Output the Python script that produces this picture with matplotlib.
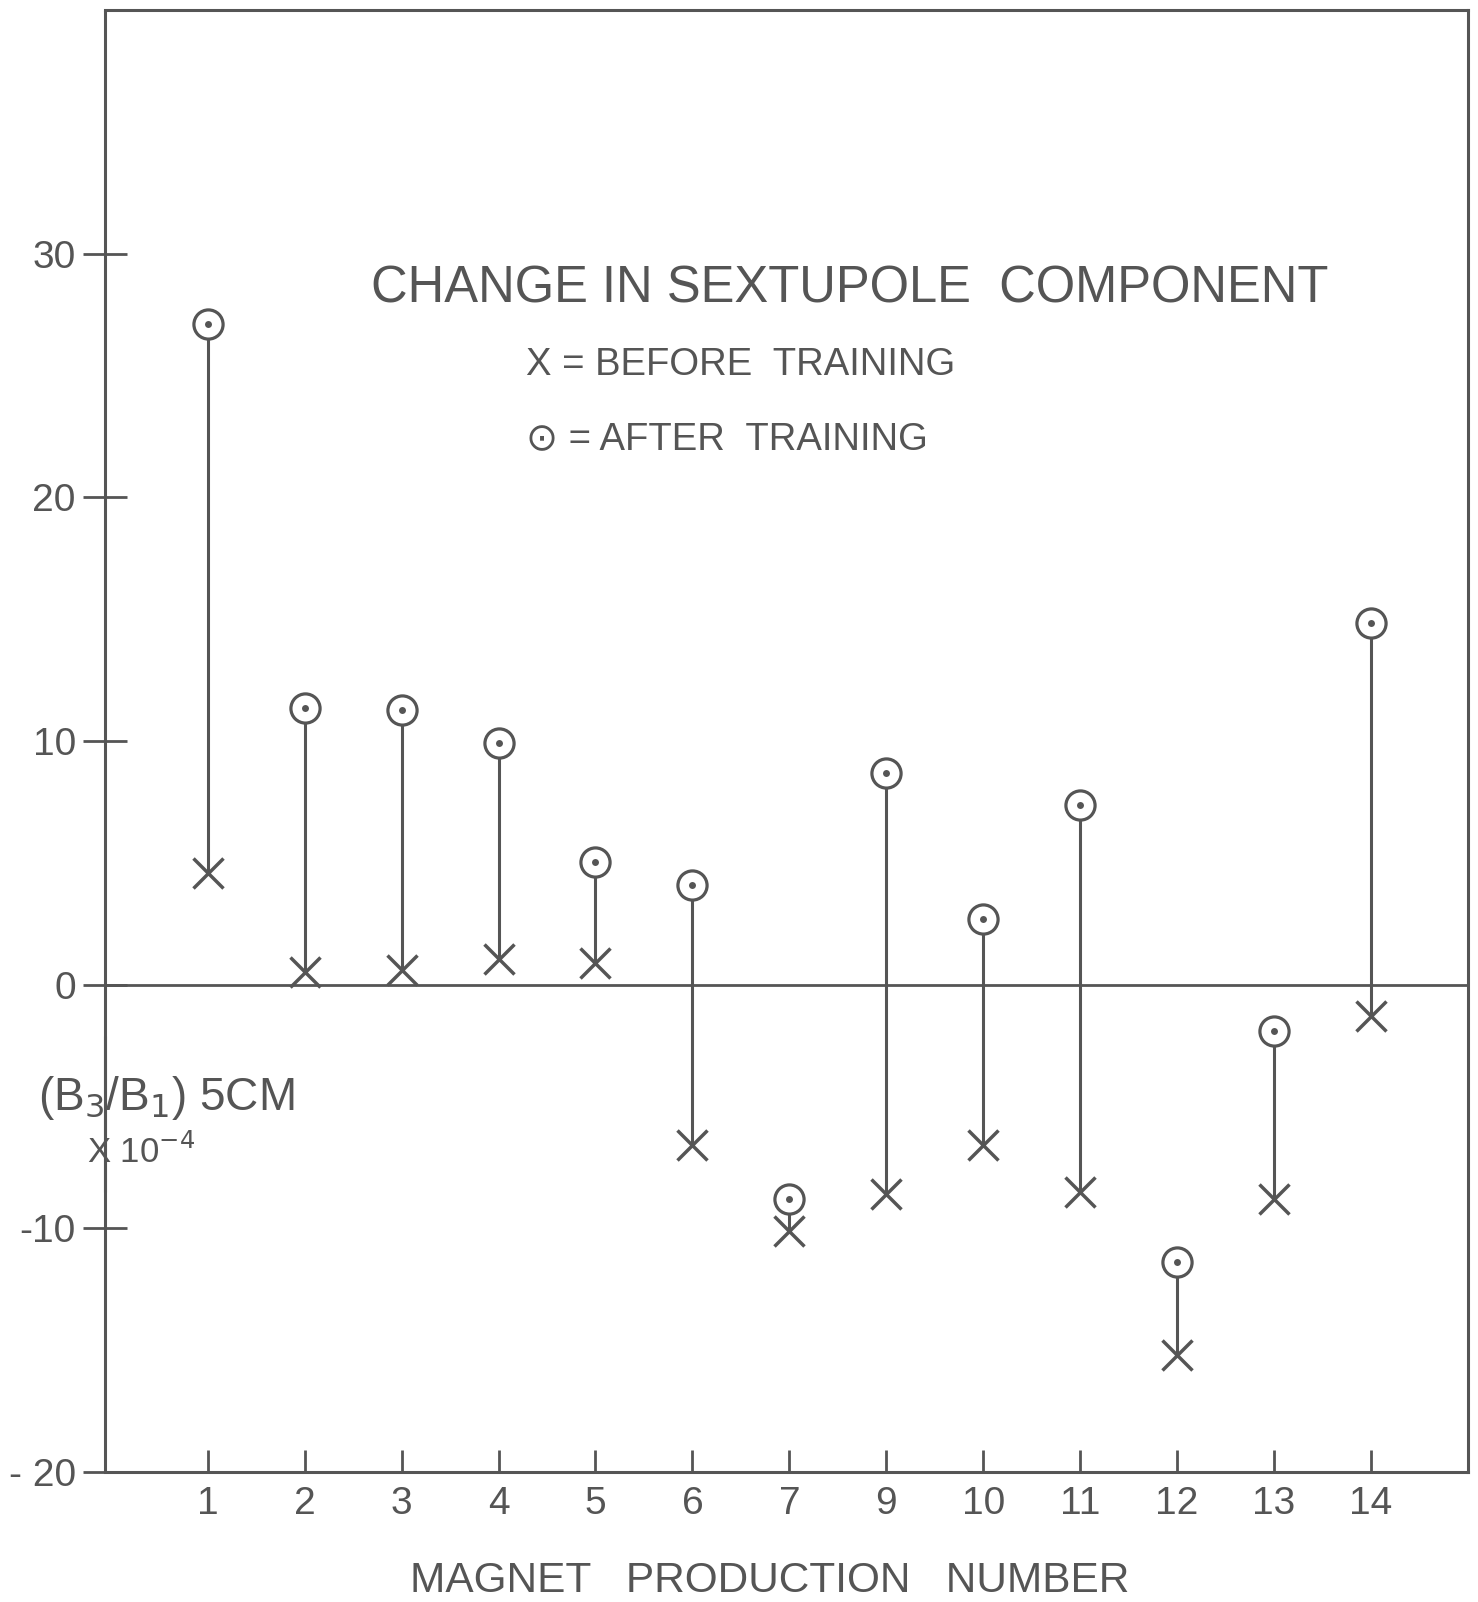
import numpy as np
import matplotlib
matplotlib.use("Agg")
import matplotlib.pyplot as plt

# magnet production numbers (8 is missing in the original)
magnets = ['1', '2', '3', '4', '5', '6', '7', '9', '10', '11', '12', '13', '14']
before = [4.6, 0.5, 0.6, 1.05, 0.9, -6.6, -10.1, -8.6, -6.6, -8.5, -15.2, -8.8, -1.3]
after = [27.1, 11.35, 11.25, 9.9, 5.05, 4.1, -8.8, 8.7, 2.7, 7.35, -11.4, -1.9, 14.85]
yticks = [-20, -10, 0, 10, 20, 30]
ytick_labels = ['- 20', '-10', '0', '10', '20', '30']

ink = '#555555'
plt.rcParams['font.family'] = ['Liberation Sans', 'DejaVu Sans']

fig = plt.figure(figsize=(14.78, 16.02), dpi=100)
ax = fig.add_axes([0.0710, 0.0812, 0.9222, 0.9126])

pos = np.arange(1, len(magnets) + 1)
ax.set_xlim(-0.06, 14.0)
ax.set_ylim(-20, 40)

# zero line
ax.axhline(0, color=ink, lw=2.0, zorder=1)

# connectors between before and after
ax.vlines(pos, before, after, color=ink, lw=2.2, zorder=2)

# before = X
ax.plot(pos, before, ls='none', marker='x', ms=21, mew=2.5, color=ink, zorder=3)
# after = circle with dot
ax.plot(pos, after, ls='none', marker='o', ms=21, mew=2.3, mec=ink, mfc='white', zorder=4)
ax.plot(pos, after, ls='none', marker='o', ms=5, mew=0, color=ink, zorder=5)

# frame: left spine broken for the axis label
for s in ['top', 'right', 'bottom']:
    ax.spines[s].set_color(ink)
    ax.spines[s].set_linewidth(2.2)
ax.spines['left'].set_visible(False)
x0 = ax.get_xlim()[0]
ax.vlines(x0, -20, -2.1, color=ink, lw=2.2, clip_on=False, zorder=6)
ax.vlines(x0, -8.5, 40, color=ink, lw=2.2, clip_on=False, zorder=6)

ax.set_xticks(pos)
ax.set_xticklabels(magnets)
ax.set_yticks(yticks)
ax.set_yticklabels(ytick_labels)
ax.tick_params(axis='x', direction='in', length=16, width=2.0, color=ink,
               labelsize=28, labelcolor=ink, pad=10)
ax.tick_params(axis='y', direction='inout', length=32, width=2.0, color=ink,
               labelsize=28, labelcolor=ink, pad=5)

fig.text(850 / 1478, 1 - 289 / 1602, 'CHANGE IN SEXTUPOLE  COMPONENT', ha='center', va='center',
         fontsize=36.5, color=ink)
fig.text(526 / 1478, 1 - 365 / 1602, 'X = BEFORE  TRAINING', ha='left', va='center',
         fontsize=27.5, color=ink)
fig.text(526 / 1478, 1 - 439 / 1602, '\u2299 = AFTER  TRAINING', ha='left', va='center',
         fontsize=27.5, color=ink)

fig.text(38 / 1478, 1 - 1098 / 1602, r'(B$_3$/B$_1$) 5CM', ha='left', va='center',
         fontsize=33, color=ink)
fig.text(87 / 1478, 1 - 1152 / 1602, r'X 10$^{-4}$', ha='left', va='center',
         fontsize=25, color=ink)

fig.text(770 / 1478, 1 - 1581 / 1602, 'MAGNET   PRODUCTION   NUMBER', ha='center', va='center',
         fontsize=30.5, color=ink)

fig.savefig('out.png', dpi=100, facecolor='white')
